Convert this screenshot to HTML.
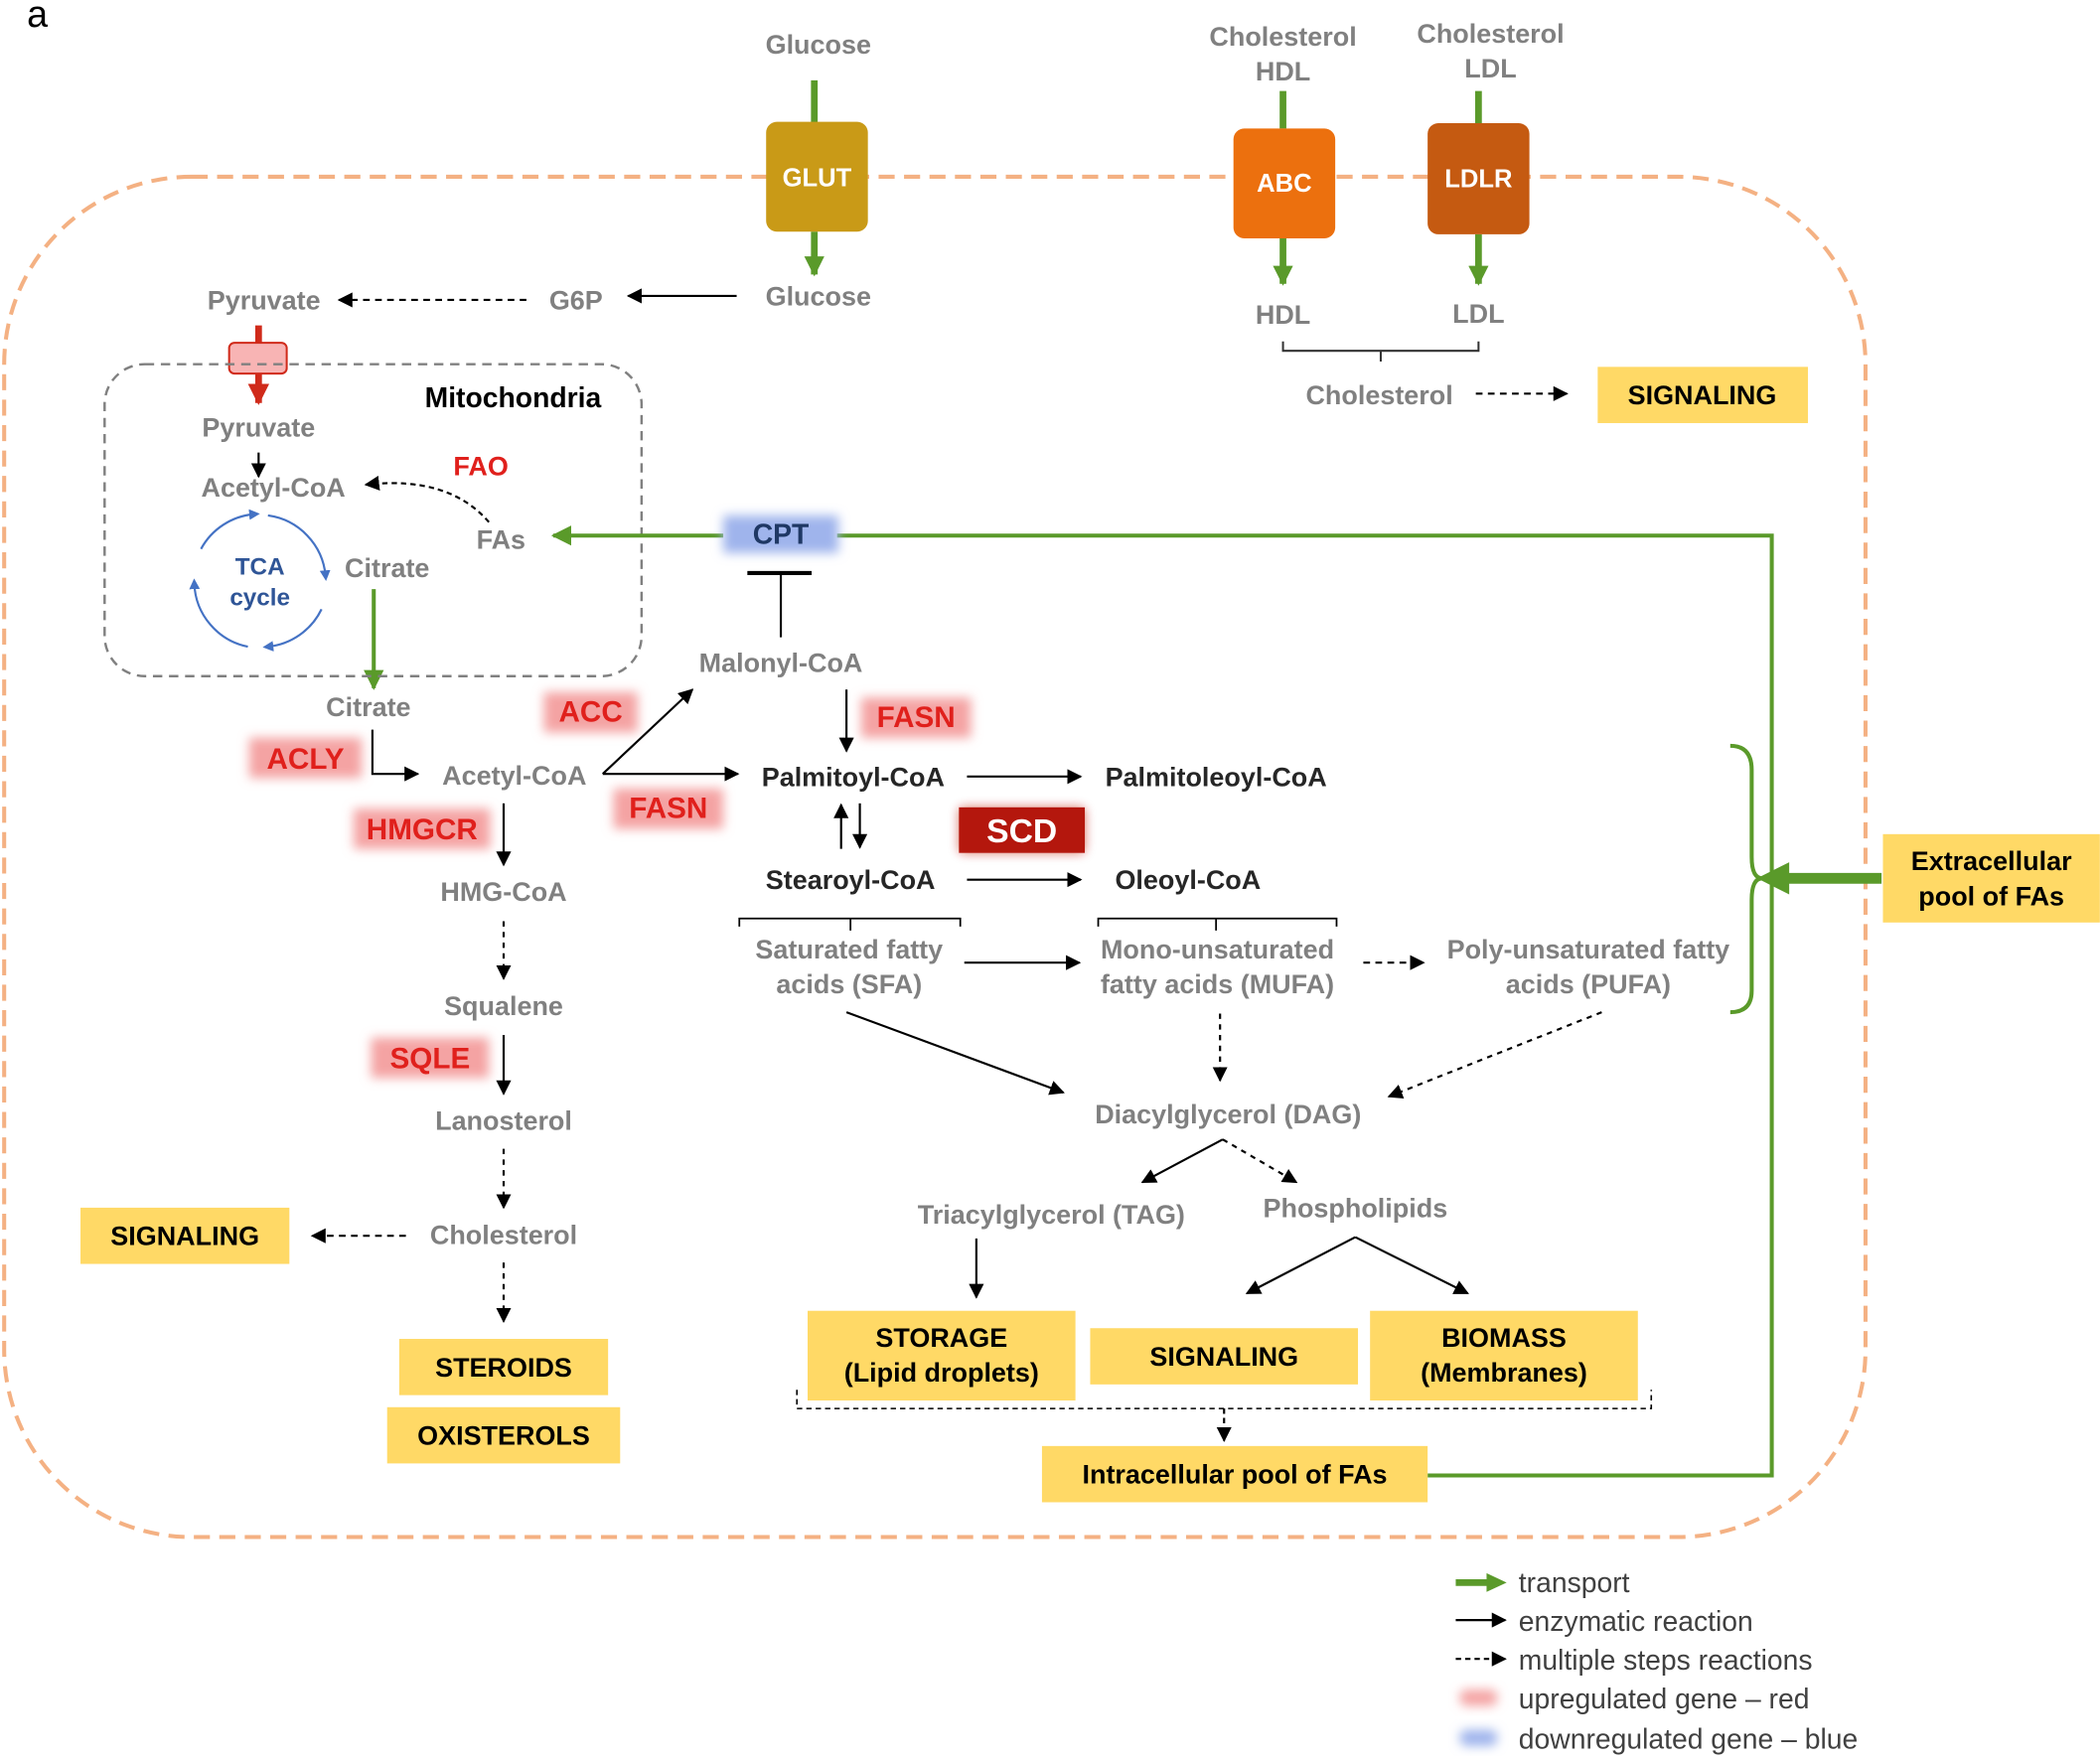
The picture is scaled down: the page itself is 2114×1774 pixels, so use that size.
<!DOCTYPE html>
<html><head><meta charset="utf-8"><style>
html,body{margin:0;padding:0;background:#fff}
svg{display:block}
text{font-family:"Liberation Sans",Arial,sans-serif;font-weight:bold}
.g{fill:#808080;font-size:20px}
.k{fill:#262626;font-size:20px}
.r{fill:#e0201c;font-size:22px}
.y{fill:#000;font-size:20px}
.l text{fill:#404040;font-size:21px;font-weight:normal}
</style></head><body>
<svg width="2114" height="1774" viewBox="0 0 1568 1316" xmlns="http://www.w3.org/2000/svg">
<defs>
<marker id="a" viewBox="0 0 10 10" refX="9" refY="5" markerWidth="7" markerHeight="7" orient="auto-start-reverse"><path d="M0,0L10,5L0,10z" fill="#000"/></marker>
<marker id="ag" viewBox="0 0 10 10" refX="9" refY="5" markerWidth="5" markerHeight="5" orient="auto"><path d="M0,0L10,5L0,10z" fill="#5a9a2a"/></marker>
<marker id="ag2" viewBox="0 0 10 10" refX="9" refY="5" markerWidth="3" markerHeight="3" orient="auto"><path d="M0,0L10,5L0,10z" fill="#5a9a2a"/></marker>
<marker id="ar" viewBox="0 0 10 10" refX="9" refY="5" markerWidth="3.2" markerHeight="3.2" orient="auto"><path d="M0,0L10,5L0,10z" fill="#d02a1a"/></marker>
<marker id="ab" viewBox="0 0 10 10" refX="5" refY="5" markerWidth="5" markerHeight="5" orient="auto"><path d="M0,0L10,5L0,10z" fill="#4472c4"/></marker>
<filter id="bl" x="-30%" y="-60%" width="160%" height="220%"><feGaussianBlur stdDeviation="4"/></filter>
</defs>
<text x="20" y="20" style="font-weight:normal;font-size:28px" fill="#000">a</text>
<rect x="3" y="132" width="1390" height="1016" rx="140" fill="none" stroke="#f4b183" stroke-width="3" stroke-dasharray="12,7"/>
<g fill="none" stroke="#5a9a2a" stroke-width="5">
<line x1="608" y1="60" x2="608" y2="92"/><line x1="608" y1="173" x2="608" y2="205" marker-end="url(#ag2)"/>
<line x1="958" y1="68" x2="958" y2="96"/><line x1="958" y1="178" x2="958" y2="212" marker-end="url(#ag2)"/>
<line x1="1104" y1="68" x2="1104" y2="92"/><line x1="1104" y1="175" x2="1104" y2="212" marker-end="url(#ag2)"/>
<line x1="279" y1="440" x2="279" y2="514" stroke-width="3" marker-end="url(#ag)"/>
</g>
<rect x="572" y="91" width="76" height="82" rx="8" fill="#c99a17"/><text x="610" y="139" text-anchor="middle" fill="#fff" font-size="19">GLUT</text>
<rect x="921" y="96" width="76" height="82" rx="8" fill="#ec700e"/><text x="959" y="143" text-anchor="middle" fill="#fff" font-size="19">ABC</text>
<rect x="1066" y="92" width="76" height="83" rx="8" fill="#c55a11"/><text x="1104" y="140" text-anchor="middle" fill="#fff" font-size="19">LDLR</text>
<g class="g" text-anchor="middle">
<text x="611" y="40">Glucose</text><text x="611" y="228">Glucose</text>
<text x="958" y="34">Cholesterol</text><text x="958" y="60">HDL</text>
<text x="1113" y="32">Cholesterol</text><text x="1113" y="58">LDL</text>
<text x="958" y="242">HDL</text><text x="1104" y="241">LDL</text>
<text x="1030" y="302">Cholesterol</text>
<text x="197" y="231">Pyruvate</text><text x="430" y="231">G6P</text>
<text x="193" y="326">Pyruvate</text><text x="204" y="371">Acetyl-CoA</text>
<text x="374" y="410">FAs</text><text x="289" y="431">Citrate</text>
<text x="275" y="535">Citrate</text><text x="384" y="586">Acetyl-CoA</text>
<text x="583" y="502">Malonyl-CoA</text>
<text x="634" y="716">Saturated fatty</text><text x="634" y="742">acids (SFA)</text>
<text x="909" y="716">Mono-unsaturated</text><text x="909" y="742">fatty acids (MUFA)</text>
<text x="1186" y="716">Poly-unsaturated fatty</text><text x="1186" y="742">acids (PUFA)</text>
<text x="376" y="673">HMG-CoA</text><text x="376" y="758">Squalene</text>
<text x="376" y="844">Lanosterol</text><text x="376" y="929">Cholesterol</text>
<text x="917" y="839">Diacylglycerol (DAG)</text>
<text x="785" y="914">Triacylglycerol (TAG)</text><text x="1012" y="909">Phospholipids</text>
</g>
<g class="k" text-anchor="middle">
<text x="637" y="587">Palmitoyl-CoA</text><text x="908" y="587">Palmitoleoyl-CoA</text>
<text x="635" y="664">Stearoyl-CoA</text><text x="887" y="664">Oleoyl-CoA</text>
</g>
<text x="383" y="304" text-anchor="middle" fill="#000" font-size="21">Mitochondria</text>
<text x="359" y="355" text-anchor="middle" fill="#e0201c" font-size="20">FAO</text>
<path d="M958,255V262H1104V255M1031,262V270" fill="none" stroke="#333" stroke-width="1.5"/>
<g fill="none" stroke="#000" stroke-width="1.6">
<line x1="1102" y1="294" x2="1170" y2="294" stroke-dasharray="5,4" marker-end="url(#a)"/>
<line x1="393" y1="224" x2="253" y2="224" stroke-dasharray="5,4" marker-end="url(#a)"/>
<line x1="550" y1="221" x2="469" y2="221" marker-end="url(#a)"/>
<line x1="193" y1="338" x2="193" y2="356" marker-end="url(#a)"/>
<path d="M365,390Q335,355 273,362" stroke-dasharray="4,3" marker-end="url(#a)"/>
<path d="M278,545V578H312" marker-end="url(#a)"/>
<line x1="450" y1="578" x2="517" y2="515" marker-end="url(#a)"/>
<line x1="450" y1="578" x2="551" y2="578" marker-end="url(#a)"/>
<line x1="583" y1="476" x2="583" y2="428"/><line x1="558" y1="428" x2="606" y2="428" stroke-width="3"/>
<line x1="632" y1="515" x2="632" y2="561" marker-end="url(#a)"/>
<line x1="722" y1="580" x2="807" y2="580" marker-end="url(#a)"/>
<line x1="628" y1="634" x2="628" y2="601" marker-end="url(#a)"/>
<line x1="642" y1="600" x2="642" y2="633" marker-end="url(#a)"/>
<line x1="722" y1="657" x2="807" y2="657" marker-end="url(#a)"/>
<path d="M552,692V686H717V692M635,686V695M820,692V686H998V692M908,686V695" stroke-width="1.3"/>
<line x1="720" y1="719" x2="806" y2="719" marker-end="url(#a)"/>
<line x1="1018" y1="719" x2="1063" y2="719" stroke-dasharray="5,4" marker-end="url(#a)"/>
<line x1="376" y1="600" x2="376" y2="646" marker-end="url(#a)"/>
<line x1="376" y1="688" x2="376" y2="731" stroke-dasharray="4,4" marker-end="url(#a)"/>
<line x1="376" y1="773" x2="376" y2="817" marker-end="url(#a)"/>
<line x1="376" y1="858" x2="376" y2="902" stroke-dasharray="4,4" marker-end="url(#a)"/>
<line x1="303" y1="923" x2="233" y2="923" stroke-dasharray="5,4" marker-end="url(#a)"/>
<line x1="376" y1="943" x2="376" y2="987" stroke-dasharray="4,4" marker-end="url(#a)"/>
<line x1="632" y1="756" x2="794" y2="816" marker-end="url(#a)"/>
<line x1="911" y1="757" x2="911" y2="807" stroke-dasharray="4,4" marker-end="url(#a)"/>
<line x1="1196" y1="756" x2="1037" y2="819" stroke-dasharray="4,4" marker-end="url(#a)"/>
<line x1="913" y1="851" x2="853" y2="883" marker-end="url(#a)"/>
<line x1="913" y1="851" x2="968" y2="883" stroke-dasharray="4,4" marker-end="url(#a)"/>
<line x1="729" y1="925" x2="729" y2="969" marker-end="url(#a)"/>
<line x1="1012" y1="924" x2="931" y2="966" marker-end="url(#a)"/>
<line x1="1012" y1="924" x2="1096" y2="966" marker-end="url(#a)"/>
<path d="M595,1038V1052H1233V1038" stroke-dasharray="4,3" stroke-width="1.2"/>
<line x1="914" y1="1052" x2="914" y2="1076" stroke-dasharray="4,3" marker-end="url(#a)"/>
</g>
<line x1="193" y1="243" x2="193" y2="301" stroke="#d02a1a" stroke-width="5" marker-end="url(#ar)"/>
<rect x="171" y="256" width="43" height="23" rx="4" fill="#f8b4b4" stroke="#d02a1a" stroke-width="1.5"/>
<rect x="78" y="272" width="401" height="233" rx="30" fill="none" stroke="#808080" stroke-width="1.8" stroke-dasharray="7,5"/>
<g fill="none" stroke="#4472c4" stroke-width="1.6">
<path d="M150,410A50,50 0 0 1 190,384" marker-end="url(#ab)"/>
<path d="M200,385A50,50 0 0 1 243,430" marker-end="url(#ab)"/>
<path d="M240,455A50,50 0 0 1 200,483" marker-end="url(#ab)"/>
<path d="M185,483A50,50 0 0 1 145,436" marker-end="url(#ab)"/>
</g>
<text x="194" y="429" text-anchor="middle" fill="#2f5597" font-size="18">TCA</text>
<text x="194" y="452" text-anchor="middle" fill="#2f5597" font-size="18">cycle</text>
<g fill="none" stroke="#5a9a2a" stroke-width="3">
<path d="M1066,1102H1323V400H625"/>
<line x1="540" y1="400" x2="413" y2="400" marker-end="url(#ag)"/>
<path d="M1292,557Q1308,557 1308,575V640Q1308,656 1316,656Q1308,656 1308,672V740Q1308,756 1292,756"/>
<line x1="1405" y1="656" x2="1328" y2="656" stroke-width="8"/>
</g>
<path d="M1312,656L1336,644L1336,668z" fill="#5a9a2a"/>
<g filter="url(#bl)" fill="#f4a3a3">
<rect x="186" y="551" width="84" height="30"/><rect x="406" y="517" width="70" height="30"/>
<rect x="458" y="589" width="82" height="30"/><rect x="643" y="521" width="82" height="30"/>
<rect x="264" y="604" width="102" height="30"/><rect x="277" y="775" width="88" height="30"/>
</g>
<rect x="540" y="385" width="86" height="28" fill="#9fb4ec" filter="url(#bl)"/>
<g class="r" text-anchor="middle">
<text x="228" y="574">ACLY</text><text x="441" y="539">ACC</text><text x="499" y="611">FASN</text>
<text x="684" y="543">FASN</text><text x="315" y="627">HMGCR</text><text x="321" y="798">SQLE</text>
</g>
<text x="583" y="406" text-anchor="middle" fill="#1f3864" font-size="21">CPT</text>
<rect x="716" y="603" width="94" height="34" rx="3" fill="#c0180e" filter="url(#bl)" opacity=".6"/>
<rect x="716" y="603" width="94" height="34" fill="#b4170d"/>
<text x="763" y="629" text-anchor="middle" fill="#fff" font-size="25">SCD</text>
<g fill="#ffd966">
<rect x="1193" y="274" width="157" height="42"/><rect x="1406" y="623" width="162" height="66"/>
<rect x="60" y="902" width="156" height="42"/><rect x="298" y="1000" width="156" height="42"/>
<rect x="289" y="1051" width="174" height="42"/><rect x="603" y="979" width="200" height="67"/>
<rect x="814" y="992" width="200" height="42"/><rect x="1023" y="979" width="200" height="67"/>
<rect x="778" y="1080" width="288" height="42"/>
</g>
<g class="y" text-anchor="middle">
<text x="1271" y="302">SIGNALING</text>
<text x="1487" y="650">Extracellular</text><text x="1487" y="676">pool of FAs</text>
<text x="138" y="930">SIGNALING</text><text x="376" y="1028">STEROIDS</text><text x="376" y="1079">OXISTEROLS</text>
<text x="703" y="1006">STORAGE</text><text x="703" y="1032">(Lipid droplets)</text>
<text x="914" y="1020">SIGNALING</text>
<text x="1123" y="1006">BIOMASS</text><text x="1123" y="1032">(Membranes)</text>
<text x="922" y="1108">Intracellular pool of FAs</text>
</g>
<line x1="1087" y1="1182" x2="1112" y2="1182" stroke="#5a9a2a" stroke-width="5"/><path d="M1110,1175L1125,1182L1110,1189z" fill="#5a9a2a"/>
<line x1="1087" y1="1210" x2="1124" y2="1210" stroke="#000" stroke-width="1.6" marker-end="url(#a)"/>
<line x1="1087" y1="1239" x2="1124" y2="1239" stroke="#000" stroke-width="1.6" stroke-dasharray="4,3" marker-end="url(#a)"/>
<rect x="1090" y="1262" width="28" height="12" rx="5" fill="#f4a3a3" filter="url(#bl)"/>
<rect x="1090" y="1292" width="28" height="12" rx="5" fill="#9fb4ec" filter="url(#bl)"/>
<g class="l"><text x="1134" y="1189">transport</text><text x="1134" y="1218">enzymatic reaction</text>
<text x="1134" y="1247">multiple steps reactions</text><text x="1134" y="1276">upregulated gene – red</text>
<text x="1134" y="1306">downregulated gene – blue</text></g>
</svg>
</body></html>
